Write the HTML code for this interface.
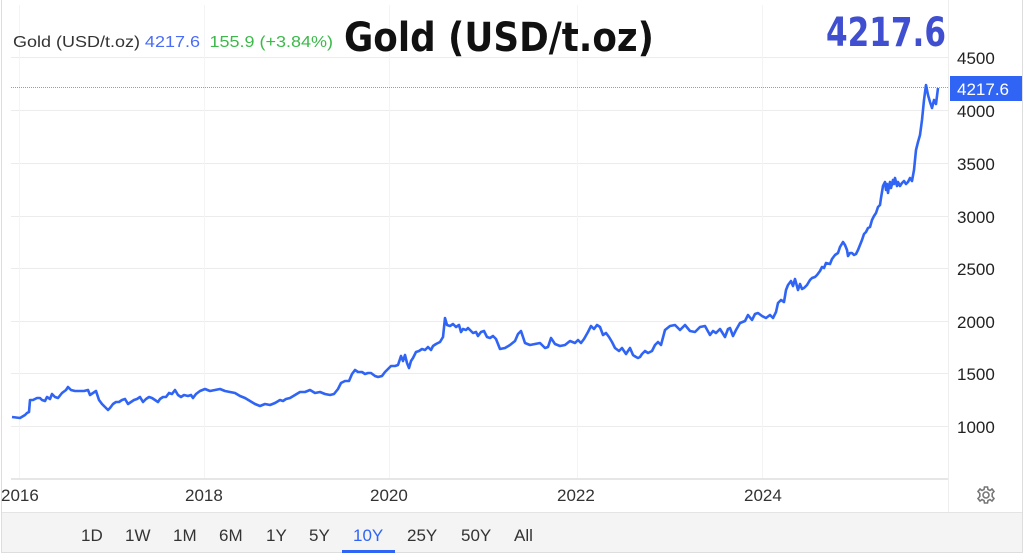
<!DOCTYPE html>
<html><head><meta charset="utf-8"><style>
html,body{margin:0;padding:0;background:#fff;width:1024px;height:556px;overflow:hidden;font-family:"Liberation Sans",sans-serif}
</style></head><body>
<svg width="1024" height="556" viewBox="0 0 1024 556" xmlns="http://www.w3.org/2000/svg" style="position:absolute;left:0;top:0">
<rect x="0" y="0" width="1024" height="556" fill="#fff"/>
<line x1="1.5" y1="0" x2="1.5" y2="553" stroke="#ddd"/>
<line x1="1022.5" y1="0" x2="1022.5" y2="553" stroke="#ddd"/>
<rect x="2" y="512" width="1020" height="41" fill="#f4f4f4"/>
<line x1="2" y1="512.5" x2="1022" y2="512.5" stroke="#e4e4e4"/>
<line x1="2" y1="552.5" x2="1022" y2="552.5" stroke="#ddd"/>
<line x1="948.5" y1="0" x2="948.5" y2="512" stroke="#eee"/>
<g stroke="#ececec" stroke-width="1">
<line x1="11" y1="57.5" x2="948" y2="57.5"/>
<line x1="11" y1="110.5" x2="948" y2="110.5"/>
<line x1="11" y1="163.5" x2="948" y2="163.5"/>
<line x1="11" y1="216.5" x2="948" y2="216.5"/>
<line x1="11" y1="268.5" x2="948" y2="268.5"/>
<line x1="11" y1="321.5" x2="948" y2="321.5"/>
<line x1="11" y1="373.5" x2="948" y2="373.5"/>
<line x1="11" y1="426.5" x2="948" y2="426.5"/>
<line x1="19.5" y1="5" x2="19.5" y2="478" stroke="#f2f4f6"/>
<line x1="204.5" y1="5" x2="204.5" y2="478" stroke="#f2f4f6"/>
<line x1="389.5" y1="5" x2="389.5" y2="478" stroke="#f2f4f6"/>
<line x1="577.5" y1="5" x2="577.5" y2="478" stroke="#f2f4f6"/>
<line x1="762.5" y1="5" x2="762.5" y2="478" stroke="#f2f4f6"/>
</g>
<line x1="11" y1="479" x2="948" y2="479" stroke="#e6e6e6" stroke-width="2"/>
<line x1="11" y1="87.5" x2="948" y2="87.5" stroke="#7f9cf5" stroke-width="1" stroke-dasharray="1,1"/>
<polyline fill="none" stroke="#2f64f5" stroke-width="2.6" stroke-linejoin="round" points="12,417 20,418 25,415 27,413 29,412 30,400 33,400 35,399 37,398 40,398 42,400 45,401 47,397 50,399 52,394 55,397 58,398 62,393 66,390 68,387 71,390 75,391 80,391 84,391 88,390 90,395 93,393 96,391 99,400 102,404 105,407 108,410 110,408 113,404 116,402 119,402 122,400 125,399 128,404 131,402 134,400 137,399 140,397 143,402 146,399 149,397 152,398 155,400 158,402 160,399 163,397 166,397 169,393 172,394 175,390 178,395 181,397 184,395 188,396 191,395 193,398 196,394 200,391 205,389 210,391 215,390 220,389 225,391 230,392 235,393 240,396 245,398 250,401 255,404 260,406 265,404 270,405 275,403 280,400 283,401 286,399 290,398 295,395 300,392 305,392 310,390 315,393 320,392 325,394 330,395 334,394 338,389 341,383 345,381 349,381 352,374 355,370 358,372 362,372 365,374 368,373 371,373 375,376 378,377 382,376 385,372 388,369 391,366 395,366 398,365 401,356 403,361 405,355 407,363 409,368 411,361 413,358 416,352 419,351 422,349 425,350 428,347 431,350 433,346 436,344 440,342 443,337 445,318 447,325 450,326 453,324 456,327 459,325 461,332 463,329 466,330 468,328 470,330 473,333 476,332 478,336 481,332 484,331 487,337 490,338 493,336 496,339 500,349 505,348 510,345 515,341 518,334 521,331 525,343 530,345 535,344 540,343 545,348 548,347 551,338 555,344 560,346 565,345 570,341 575,343 578,340 581,343 584,339 588,332 591,326 594,329 597,325 600,327 603,335 606,333 609,337 612,342 615,348 619,351 622,348 626,354 630,348 633,355 636,357 638,358 640,357 642,354 645,351 648,353 652,351 655,345 658,342 661,345 665,330 670,326 675,325 680,330 685,325 690,331 695,332 700,327 705,326 710,335 713,331 716,333 720,329 725,337 728,329 730,328 733,336 736,330 740,323 745,321 748,315 752,320 755,314 758,313 762,316 766,318 770,315 773,318 776,312 778,303 781,300 784,302 786,290 788,285 791,281 793,286 795,279 798,290 800,284 802,289 804,288 807,285 810,280 812,278 815,277 817,275 820,271 822,267 824,268 826,263 830,264 832,259 835,255 838,253 840,247 843,242 845,245 847,250 848,256 850,253 852,253 854,255 856,254 858,250 860,245 862,240 864,234 866,232 868,228 870,227 872,220 874,216 876,213 878,207 880,205 881,198 883,186 885,182 886,190 887,184 888,193 889,186 890,182 891,188 893,180 894,184 895,178 897,186 898,182 900,186 902,183 904,181 906,184 908,182 910,178 912,181 914,170 916,150 918,142 920,135 922,120 924,100 926,85 928,95 930,102 932,108 934,100 936,104 938,88"/>
<g font-family="Liberation Sans, sans-serif" font-size="17" fill="#222">
<text x="957" y="64">4500</text>
<text x="957" y="117">4000</text>
<text x="957" y="170">3500</text>
<text x="957" y="223">3000</text>
<text x="957" y="275">2500</text>
<text x="957" y="328">2000</text>
<text x="957" y="380">1500</text>
<text x="957" y="433">1000</text>
</g>
<rect x="950" y="76" width="72" height="25" fill="#2f64f5"/>
<text x="957" y="95" font-family="Liberation Sans, sans-serif" font-size="17" fill="#fff">4217.6</text>
<g font-family="Liberation Sans, sans-serif" font-size="17" fill="#333">
<text x="1" y="501">2016</text>
<text x="185" y="501">2018</text>
<text x="370" y="501">2020</text>
<text x="557" y="501">2022</text>
<text x="744" y="501">2024</text>
</g>
<g transform="translate(986,495)" fill="none" stroke="#777" stroke-width="1.6">
<circle r="3"/>
<path d="M-1.5,-8 L1.5,-8 L2,-5.5 L4,-4.5 L6,-6 L8,-3.5 L6.2,-1.5 L6.2,1.5 L8,3.5 L6,6 L4,4.5 L2,5.5 L1.5,8 L-1.5,8 L-2,5.5 L-4,4.5 L-6,6 L-8,3.5 L-6.2,1.5 L-6.2,-1.5 L-8,-3.5 L-6,-6 L-4,-4.5 L-2,-5.5 Z"/>
</g>
<text x="13" y="47" font-family="Liberation Sans, sans-serif" font-size="16" fill="#333" textLength="320" lengthAdjust="spacingAndGlyphs">Gold (USD/t.oz) <tspan fill="#4a6cf7">4217.6</tspan> <tspan fill="#3cb94a" dx="4">155.9 (+3.84%)</tspan></text>
<text x="344" y="51" font-family="DejaVu Sans, sans-serif" font-weight="bold" font-size="40" fill="#111" textLength="310" lengthAdjust="spacingAndGlyphs">Gold (USD/t.oz)</text>
<text x="826" y="46" font-family="DejaVu Sans, sans-serif" font-weight="bold" font-size="40" fill="#3f4fcf" textLength="120" lengthAdjust="spacingAndGlyphs">4217.6</text>
<g font-family="Liberation Sans, sans-serif" font-size="17" fill="#333">
<text x="81" y="541">1D</text>
<text x="125" y="541">1W</text>
<text x="173" y="541">1M</text>
<text x="219" y="541">6M</text>
<text x="266" y="541">1Y</text>
<text x="309" y="541">5Y</text>
<text x="353" y="541" fill="#2f64f5">10Y</text>
<text x="407" y="541">25Y</text>
<text x="461" y="541">50Y</text>
<text x="514" y="541">All</text>
</g>
<rect x="342" y="550" width="53" height="3" fill="#2f64f5"/>
</svg>
</body></html>
